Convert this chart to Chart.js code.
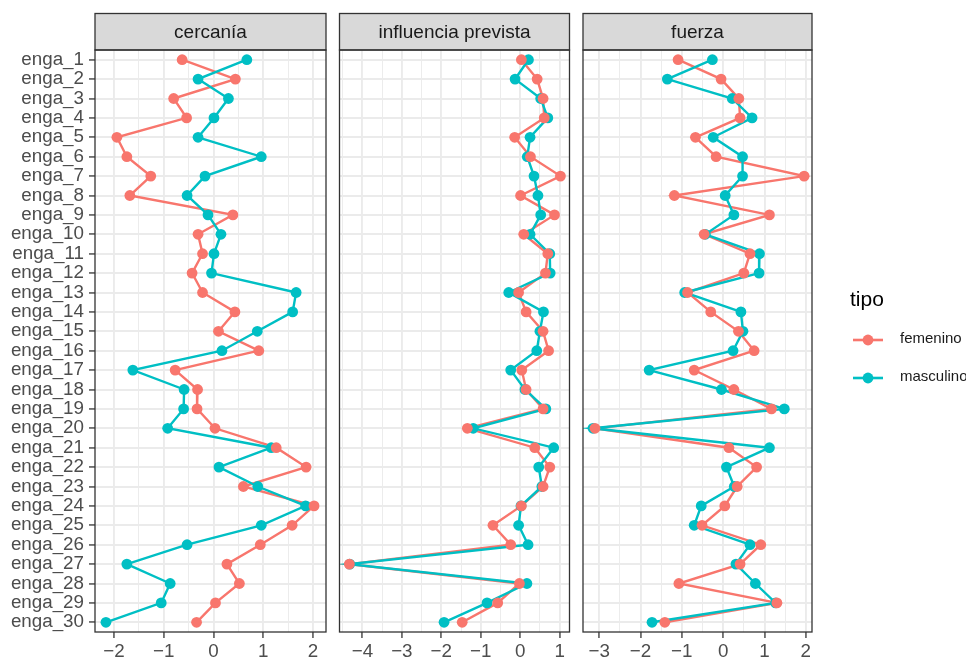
<!DOCTYPE html>
<html><head><meta charset="utf-8">
<script src="https://cdn.jsdelivr.net/npm/chart.js@4.4.0/dist/chart.umd.min.js"></script>
<style>
html,body{margin:0;padding:0;background:#fff;}
#wrap{position:relative;width:966px;height:659px;overflow:hidden;background:#fff;}
canvas{position:absolute;left:0;top:0;}
</style></head><body>
<div id="wrap">
<canvas id="c1" width="966" height="659" style="width:966px;height:659px"></canvas>
<canvas id="c2" width="966" height="659" style="width:966px;height:659px"></canvas>
<canvas id="c3" width="966" height="659" style="width:966px;height:659px"></canvas>
</div>
<script>
const categories = ['enga_1','enga_2','enga_3','enga_4','enga_5','enga_6','enga_7','enga_8','enga_9','enga_10',
  'enga_11','enga_12','enga_13','enga_14','enga_15','enga_16','enga_17','enga_18','enga_19','enga_20',
  'enga_21','enga_22','enga_23','enga_24','enga_25','enga_26','enga_27','enga_28','enga_29','enga_30'];

const panelTitles = ['cercanía', 'influencia prevista', 'fuerza'];
const seriesNames = ['femenino', 'masculino'];

const cercaniaFem  = [-0.63, 0.44, -0.80, -0.54, -1.94, -1.74, -1.26, -1.68, 0.39, -0.31, -0.22, -0.43, -0.22, 0.43, 0.10, 0.91, -0.77, -0.32, -0.33, 0.03, 1.26, 1.86, 0.60, 2.02, 1.58, 0.94, 0.27, 0.52, 0.04, -0.34];
const cercaniaMasc = [0.67, -0.31, 0.30, 0.01, -0.31, 0.96, -0.17, -0.53, -0.11, 0.15, 0.01, -0.04, 1.66, 1.59, 0.88, 0.17, -1.62, -0.59, -0.60, -0.92, 1.16, 0.11, 0.89, 1.85, 0.96, -0.53, -1.74, -0.87, -1.05, -2.16];

const influenciaFem  = [0.03, 0.43, 0.58, 0.61, -0.14, 0.26, 1.02, 0.01, 0.87, 0.09, 0.70, 0.64, -0.04, 0.15, 0.58, 0.72, 0.04, 0.15, 0.58, -1.34, 0.37, 0.75, 0.58, 0.03, -0.69, -0.24, -4.33, -0.02, -0.57, -1.47];
const influenciaMasc = [0.21, -0.13, 0.52, 0.70, 0.25, 0.18, 0.35, 0.45, 0.52, 0.25, 0.75, 0.76, -0.29, 0.59, 0.50, 0.42, -0.24, 0.12, 0.65, -1.19, 0.85, 0.47, 0.55, 0.02, -0.04, 0.20, -4.32, 0.17, -0.84, -1.93];

const fuerzaFem  = [-1.09, -0.05, 0.38, 0.41, -0.67, -0.17, 1.96, -1.18, 1.12, -0.46, 0.65, 0.50, -0.86, -0.30, 0.37, 0.75, -0.70, 0.26, 1.17, -3.10, 0.14, 0.81, 0.34, 0.04, -0.51, 0.91, 0.41, -1.07, 1.30, -1.41];
const fuerzaMasc = [-0.26, -1.35, 0.22, 0.70, -0.24, 0.47, 0.47, 0.05, 0.26, -0.43, 0.88, 0.87, -0.93, 0.43, 0.48, 0.24, -1.79, -0.04, 1.48, -3.15, 1.12, 0.08, 0.27, -0.53, -0.70, 0.65, 0.31, 0.78, 1.27, -1.72];

const FEM = '#F8766D';
const MASC = '#00BFC4';
const FONT = "'Liberation Sans', Arial, Helvetica, sans-serif";

const panels = [
  {canvas: 'c1', title: panelTitles[0], fem: cercaniaFem, masc: cercaniaMasc, min: -2.38, max: 2.26, left: 95, right: 326, yLabels: true, legend: false},
  {canvas: 'c2', title: panelTitles[1], fem: influenciaFem, masc: influenciaMasc, min: -4.58, max: 1.25, left: 339.5, right: 569.5, yLabels: false, legend: false},
  {canvas: 'c3', title: panelTitles[2], fem: fuerzaFem, masc: fuerzaMasc, min: -3.39, max: 2.15, left: 583, right: 812, yLabels: false, legend: true}
];

const isInt = v => Math.abs(v - Math.round(v)) < 1e-9;

const panelPlugin = {
  id: 'panel',
  afterDraw(chart, args, opts) {
    const ctx = chart.ctx;
    const a = chart.chartArea;
    const stripTop = 13.5;
    ctx.save();
    ctx.fillStyle = '#D9D9D9';
    ctx.fillRect(a.left, stripTop, a.right - a.left, a.top - stripTop);
    ctx.strokeStyle = '#333333';
    ctx.lineWidth = 1.3;
    ctx.strokeRect(a.left, stripTop, a.right - a.left, a.top - stripTop);
    ctx.fillStyle = '#1A1A1A';
    ctx.font = '19px ' + FONT;
    ctx.textAlign = 'center';
    ctx.textBaseline = 'middle';
    ctx.fillText(opts.title, (a.left + a.right) / 2, (stripTop + a.top) / 2 + 1);
    ctx.strokeRect(a.left, a.top, a.right - a.left, a.bottom - a.top);
    if (opts.legend) {
      ctx.fillStyle = '#000000';
      ctx.font = '21px ' + FONT;
      ctx.textAlign = 'left';
      ctx.textBaseline = 'alphabetic';
      ctx.fillText('tipo', 850, 306);
      const items = [{label: seriesNames[0], color: FEM, y: 340}, {label: seriesNames[1], color: MASC, y: 378}];
      items.forEach(it => {
        ctx.strokeStyle = it.color;
        ctx.lineWidth = 2.6;
        ctx.beginPath();
        ctx.moveTo(853, it.y);
        ctx.lineTo(883, it.y);
        ctx.stroke();
        ctx.fillStyle = it.color;
        ctx.beginPath();
        ctx.arc(868, it.y, 5.4, 0, Math.PI * 2);
        ctx.fill();
        ctx.fillStyle = '#1A1A1A';
        ctx.font = '15px ' + FONT;
        ctx.textBaseline = 'middle';
        ctx.fillText(it.label, 900, it.y - 1);
      });
    }
    ctx.restore();
  }
};

panels.forEach(p => {
  new Chart(document.getElementById(p.canvas), {
    type: 'line',
    data: {
      labels: categories,
      datasets: [
        {label: seriesNames[0], data: p.fem, showLine: false, pointRadius: 5.4, pointBorderWidth: 0, pointBackgroundColor: FEM, borderColor: FEM, backgroundColor: FEM},
        {label: seriesNames[1], data: p.masc, showLine: false, pointRadius: 5.4, pointBorderWidth: 0, pointBackgroundColor: MASC, borderColor: MASC, backgroundColor: MASC},
        {label: seriesNames[1] + ' línea', data: p.masc, borderColor: MASC, borderWidth: 2.4, pointRadius: 0, fill: false, tension: 0},
        {label: seriesNames[0] + ' línea', data: p.fem, borderColor: FEM, borderWidth: 2.4, pointRadius: 0, fill: false, tension: 0}
      ]
    },
    options: {
      indexAxis: 'y',
      responsive: false,
      animation: false,
      devicePixelRatio: 1,
      events: [],
      layout: {padding: {left: p.yLabels ? 0 : p.left, right: 966 - p.right, top: 50, bottom: 0}},
      plugins: {
        legend: {display: false},
        tooltip: {enabled: false},
        title: {display: false},
        panel: {title: p.title, legend: p.legend}
      },
      scales: {
        y: {
          type: 'category',
          offset: true,
          border: {display: false},
          grid: {offset: false, color: '#EBEBEB', lineWidth: 1.9, drawTicks: p.yLabels, tickLength: 6, tickColor: '#333333', tickWidth: 1.3},
          ticks: {display: p.yLabels, autoSkip: false, padding: 5, color: '#4D4D4D', font: {family: FONT, size: 18.8}},
          afterFit(s) { s.width = p.yLabels ? p.left : 0; }
        },
        x: {
          type: 'linear',
          min: p.min,
          max: p.max,
          border: {display: false},
          grid: {
            color: '#EBEBEB',
            lineWidth: c => (c.tick && isInt(c.tick.value)) ? 1.9 : 0.95,
            drawTicks: true,
            tickLength: 6,
            tickColor: c => (c.tick && isInt(c.tick.value)) ? '#333333' : 'rgba(0,0,0,0)',
            tickWidth: 1.3
          },
          ticks: {
            stepSize: 0.5,
            includeBounds: false,
            autoSkip: false,
            maxRotation: 0,
            minRotation: 0,
            padding: 3,
            color: '#4D4D4D',
            font: {family: FONT, size: 18.8},
            callback: v => isInt(v) ? (Math.round(v) < 0 ? '\u2212' + Math.abs(Math.round(v)) : String(Math.round(v))) : ''
          },
          afterFit(s) { s.height = 27; }
        }
      }
    },
    plugins: [panelPlugin]
  });
});
</script>
</body></html>
